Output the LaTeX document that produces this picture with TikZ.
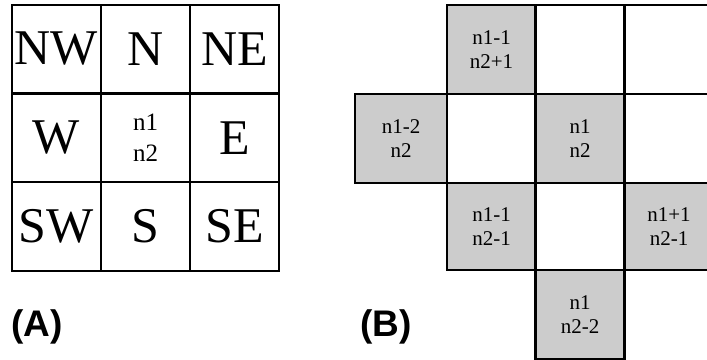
\documentclass[tikz,border=0pt]{standalone}
\usepackage{fontspec}
\setmainfont{Liberation Serif}
\newfontfamily\labfont{Liberation Sans}
\begin{document}
\begin{tikzpicture}[x=1pt,y=-1pt,
  cellA/.style={draw=black,line width=2.2pt,minimum width=89pt,minimum height=88.5pt,inner sep=0pt,anchor=center},
  bigtxt/.style={font=\fontsize{50}{50}\selectfont},
  midtxt/.style={font=\fontsize{25}{31}\selectfont,align=center},
  cellB/.style={draw=black,line width=2.2pt,minimum width=89pt,minimum height=89pt,inner sep=0pt,anchor=center,font=\fontsize{21}{23.5}\selectfont,align=center},
  shaded/.style={fill=black!20},
  plain/.style={fill=white},
  lab/.style={font=\labfont\bfseries\fontsize{37}{37}\selectfont,inner sep=0pt}]
\useasboundingbox (0,0) rectangle (707,359);
\begin{scope}
\clip (0,0) rectangle (707,359);
% grid A
\node[cellA,bigtxt] (nw) at (56.5,49) {NW};
\node[cellA,bigtxt] (n)  at (145.5,49) {N};
\node[cellA,bigtxt] (ne) at (234.5,49) {NE};
\node[cellA,bigtxt] (w)  at (56.5,138) {W};
\node[cellA,midtxt] (c)  at (145.5,138) {n1\\n2};
\node[cellA,bigtxt] (e)  at (234.5,138) {E};
\node[cellA,bigtxt] (sw) at (56.5,226.5) {SW};
\node[cellA,bigtxt] (s)  at (145.5,226.5) {S};
\node[cellA,bigtxt] (se) at (234.5,226.5) {SE};
% grid B
\node[cellB,shaded] (b01) at (491.5,49.5) {n1-1\\n2+1};
\node[cellB,plain]  (b02) at (580,49.5) {};
\node[cellB,plain]  (b03) at (669,49.5) {};
\node[cellB,shaded,minimum width=92pt] (b10) at (401,138.5) {n1-2\\n2};
\node[cellB,plain]  (b11) at (491.5,138.5) {};
\node[cellB,shaded] (b12) at (580,138.5) {n1\\n2};
\node[cellB,plain]  (b13) at (669,138.5) {};
\node[cellB,shaded,minimum height=87pt] (b21) at (491.5,226.5) {n1-1\\n2-1};
\node[cellB,plain,minimum height=87pt]  (b22) at (580,226.5) {};
\node[cellB,shaded,minimum height=87pt] (b23) at (669,226.5) {n1+1\\n2-1};
\node[cellB,shaded] (b32) at (580,314.5) {n1\\n2-2};
\end{scope}
\node[lab] (la) at (37,327) {(A)};
\node[lab] (lb) at (386,327) {(B)};
\end{tikzpicture}
\end{document}
